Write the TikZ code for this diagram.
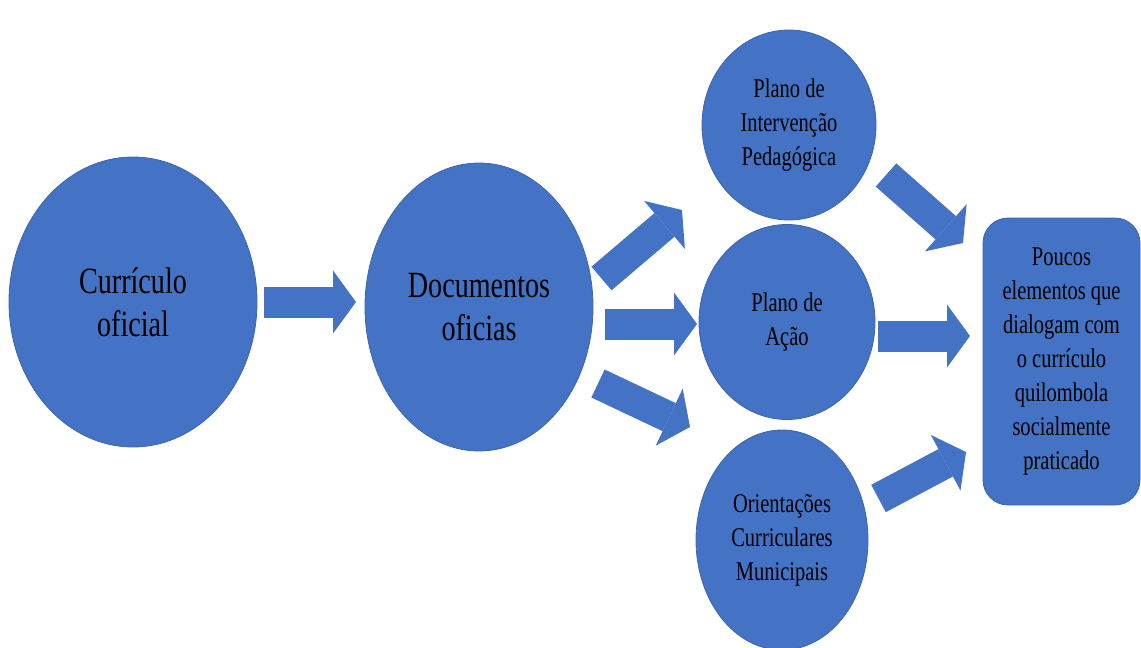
\documentclass[tikz,border=0pt]{standalone}
\usepackage{fontspec}
\setmainfont[FakeStretch=0.76]{Liberation Serif}
\usetikzlibrary{shapes.geometric,arrows.meta}
\definecolor{blueA}{HTML}{4472C4}
\definecolor{blueB}{HTML}{3A64B0}
\begin{document}
\begin{tikzpicture}[x=1pt,y=-1pt,
  circ/.style={ellipse,fill=blueA,draw=blueB,line width=0.8pt,inner sep=0pt,align=center,text=black},
  bigtxt/.style={font=\fontsize{37}{43}\selectfont},
  smalltxt/.style={font=\fontsize{27}{34}\selectfont},
  barrow/.style={draw=blueA,line width=31pt,
    -{Triangle[length=23pt,width=63pt,line width=0pt]}}]
\useasboundingbox (0,0) rectangle (1141,648);
% nodes
\node[circ,bigtxt,minimum width=248pt,minimum height=290pt] (cur) at (133,302) {Currículo\\oficial};
\node[circ,bigtxt,minimum width=228pt,minimum height=288pt] (doc) at (479,307) {Documentos\\oficias};
\node[circ,smalltxt,minimum width=174pt,minimum height=190pt] (pip) at (789,125) {Plano de\\Intervenção\\Pedagógica};
\node[circ,smalltxt,minimum width=176pt,minimum height=195pt] (pa) at (787,322) {Plano de\\Ação};
\node[circ,smalltxt,minimum width=172pt,minimum height=220pt] (ocm) at (782,540) {Orientações\\Curriculares\\Municipais};
\node[rectangle,rounded corners=25pt,fill=blueA,draw=blueB,line width=0.8pt,
  minimum width=157pt,minimum height=287pt,align=center,smalltxt,inner sep=0pt] (res) at (1061.5,361.5)
  {Poucos\\elementos que\\dialogam com\\o currículo\\quilombola\\socialmente\\praticado};
% arrow end points
\coordinate (t1) at (264,302);   \coordinate (h1) at (356,302);
\coordinate (t2) at (601.5,278.5); \coordinate (h2) at (682,210);
\coordinate (t3) at (605,324);   \coordinate (h3) at (697,324);
\coordinate (t4) at (598,383.5); \coordinate (h4) at (690,427);
\coordinate (t5) at (886,175);   \coordinate (h5) at (963,243);
\coordinate (t6) at (878,336);   \coordinate (h6) at (970,336);
\coordinate (t7) at (878.5,498.5); \coordinate (h7) at (966,452);
% arrows
\draw[barrow] (t1) -- (h1);
\draw[barrow] (t2) -- (h2);
\draw[barrow] (t3) -- (h3);
\draw[barrow] (t4) -- (h4);
\draw[barrow] (t5) -- (h5);
\draw[barrow] (t6) -- (h6);
\draw[barrow] (t7) -- (h7);
\end{tikzpicture}
\end{document}
